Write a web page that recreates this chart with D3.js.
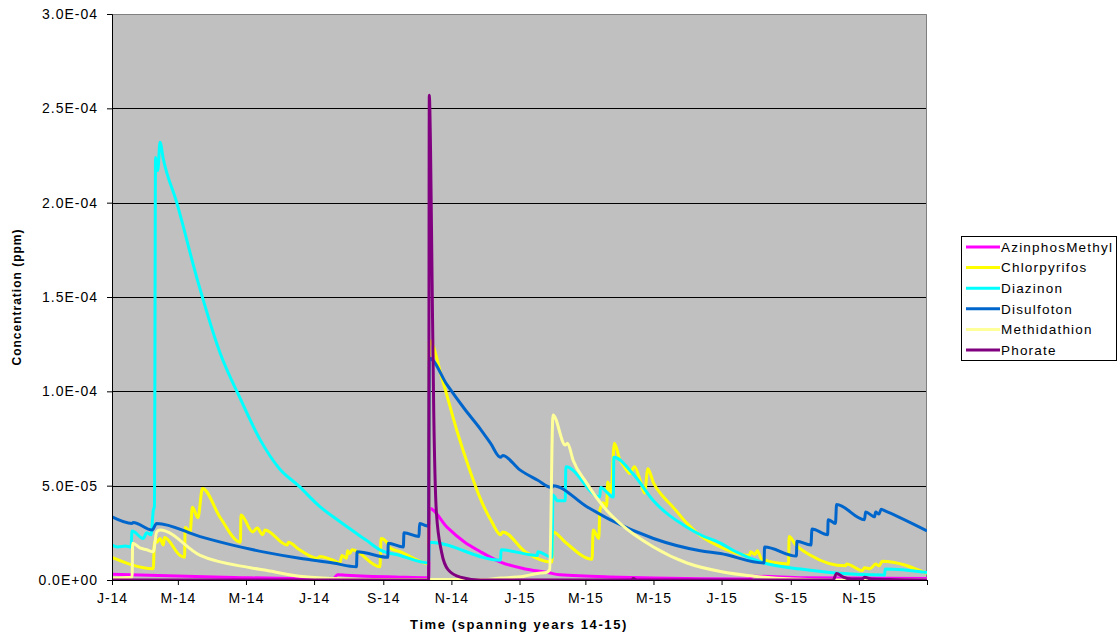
<!DOCTYPE html>
<html>
<head>
<meta charset="utf-8">
<script src="https://cdn.jsdelivr.net/npm/d3@7"></script>
<style>
  body { margin: 0; background: #fff; }
  svg { display: block; font-family: "Liberation Sans", Arial, sans-serif; }
</style>
</head>
<body>
<div id="chart"></div>
<script>
// values are read off the picture, in units of 1e-5 ppm
// each point is [days since 1 Jan 2014, concentration]
var UNIT = 1e-5;

var azinphosMethyl = [
  [0, 0.3], [100, 0.15], [198, 0.05], [202, 0.28], [210, 0.25], [258, 0.15],
  [283.6, 0.12], [284.3, 3.8], [300, 2.8], [316, 2.0], [330, 1.5], [348, 0.95],
  [369, 0.6], [390, 0.4], [401, 0.28], [455, 0.15], [485, 0.1], [570, 0.05],
  [575, 0.2], [620, 0.12], [730, 0.08]
];

var chlorpyrifos = [
  [0, 1.2], [37, 0.6], [38, 2.0], [40, 2.0], [43, 2.2], [46, 1.85], [47, 2.25],
  [61, 1.3], [65, 1.2], [65.5, 2.8], [70, 2.55], [72, 3.85], [77, 3.3], [81, 4.85],
  [97, 3.3], [115, 2.0], [115.5, 3.45], [126, 2.55], [130, 2.75], [135, 2.4],
  [137, 2.65], [157, 1.85], [158, 2.0], [168, 1.6], [184, 1.15], [186, 1.25],
  [198, 1.05], [204, 0.9], [206, 1.3], [210, 1.15], [211, 1.55], [213, 1.4],
  [215, 1.6], [240, 0.7], [241, 2.2], [246, 2.0], [249, 1.7], [258, 1.5],
  [280, 0.9], [283.6, 0.85], [284.3, 12.7], [296, 10.6], [309, 7.9], [320, 5.9],
  [330, 4.3], [340, 3.1], [348, 2.4], [350, 2.55], [370, 1.5], [394, 0.95],
  [395, 2.55], [406, 2.0],
  [430, 1.1], [431, 2.65], [436, 2.2], [437, 3.7], [440, 4.1], [443, 3.9],
  [444, 5.2], [447, 4.65], [450, 7.25], [455, 6.35], [459, 6.0], [464, 5.65],
  [468, 6.0], [473, 5.3], [477, 4.6], [480, 5.9], [485, 5.15], [494, 4.4],
  [502, 3.9], [515, 3.0], [527, 2.35], [545, 1.75], [557, 1.45], [571, 1.3],
  [572, 1.5], [576, 1.35], [578, 1.55], [582, 1.1], [606, 0.85], [606.5, 2.3],
  [612, 1.9], [626, 1.3], [657, 0.75], [658, 0.85], [672, 0.5], [674, 0.65],
  [679, 0.6], [684, 0.85], [687, 0.75], [690, 1.0], [730, 0.35]
];

var diazinon = [
  [0, 1.85], [5, 1.75], [12, 1.8], [17, 1.75], [18, 2.6], [28, 2.2], [31, 2.5],
  [35, 2.4], [37, 3.7], [38, 3.9], [39, 22.4], [41, 21.7], [43, 23.2], [46, 22.3],
  [58, 20.0], [77, 15.8], [97, 12.0], [115, 9.6], [133, 7.4], [150, 5.9],
  [167, 5.0], [186, 3.9], [204, 3.1], [228, 2.1], [240, 1.6], [258, 1.3],
  [283.6, 0.9], [284.3, 2.0], [348, 1.05], [348.5, 1.6], [381, 1.3], [381.5, 1.5],
  [394, 1.2], [395, 4.5], [399, 4.2], [406, 4.2], [406.5, 6.0], [437, 4.4],
  [437.5, 4.9], [449, 4.4], [449.5, 6.5], [467, 5.6], [485, 4.2], [515, 2.8],
  [527, 2.4], [545, 1.95], [557, 1.55], [584, 0.9], [617, 0.58], [648, 0.37],
  [692, 0.26], [692.5, 0.58], [730, 0.4]
];

var disulfoton = [
  [0, 3.35], [18, 3.0], [19, 3.05], [36, 2.65], [40, 3.0], [79, 2.3], [108, 1.85],
  [139, 1.45], [168, 1.15], [198, 0.9], [219, 0.7], [219.5, 1.5], [247, 1.2],
  [247.5, 1.95], [261, 1.75], [261.5, 2.5], [275, 2.3], [275.5, 3.0], [280, 2.9],
  [283.6, 2.85], [284.3, 11.75], [300, 10.35], [316, 9.05], [330, 8.0], [339, 7.25],
  [348, 6.5], [350, 6.6], [365, 5.85], [381, 5.3], [394, 4.9], [395, 5.0],
  [425, 3.9], [446, 3.2], [485, 2.2],
  [527, 1.55], [545, 1.4], [584, 0.9], [584.5, 1.75], [613, 1.27], [613.5, 2.05],
  [626, 1.85], [627, 2.7], [641, 2.4], [641.5, 3.2], [648, 3.0], [649, 4.0],
  [674, 3.2], [675, 3.6], [683, 3.35], [684, 3.6], [687, 3.5], [689, 3.75],
  [691, 3.7], [730, 2.6]
];

var methidathion = [
  [0, 0.1], [18, 0.15], [18.5, 1.95], [25, 1.7], [31, 1.6], [37, 1.5], [40, 2.55],
  [43, 2.65], [79, 1.3], [124, 0.65], [139, 0.5], [168, 0.2], [198, 0.08],
  [230, 0.02], [330, 0.02], [348, 0.1], [369, 0.2], [381, 0.35], [389, 0.4],
  [392, 0.55], [395, 8.75], [406, 7.15], [408, 7.25], [413, 6.35], [425, 5.15],
  [443, 3.7], [455, 3.0], [485, 1.75], [515, 0.9], [545, 0.45], [575, 0.2],
  [610, 0.05], [650, 0], [730, 0]
];

var phorate = [
  [0, 0], [283.6, 0], [284.2, 25.7], [285.3, 22.9], [286.7, 15.9], [288.2, 8.85],
  [290.6, 3.55], [295.3, 1.45], [301, 0.55], [312, 0.15], [330, 0], [465, 0],
  [467, 0.08], [470, 0], [646, 0], [649, 0.35], [655, 0.15], [662, 0.05],
  [672, 0.05], [674, 0.15], [680, 0.05], [730, 0]
];

var seriesNames = ["AzinphosMethyl", "Chlorpyrifos", "Diazinon", "Disulfoton", "Methidathion", "Phorate"];
var seriesData = [azinphosMethyl, chlorpyrifos, diazinon, disulfoton, methidathion, phorate];
var seriesColors = ["#FF00FF", "#FFFF00", "#00FFFF", "#0066CC", "#FFFF99", "#800080"];

var yTicks = [0, 5e-5, 1e-4, 1.5e-4, 2e-4, 2.5e-4, 3e-4];
var monthInitials = ["J", "F", "M", "A", "M", "J", "J", "A", "S", "O", "N", "D"];

var svgWidth = 1119;
var svgHeight = 636;
var margin = { top: 14, left: 112 };
var chartWidth = 815;
var chartHeight = 566;

var start = new Date(Date.UTC(2014, 0, 1));
var end = new Date(Date.UTC(2016, 0, 1));
function dayToDate(d) { return new Date(start.getTime() + d * 864e5); }

var svg = d3.select("#chart").append("svg")
  .attr("width", svgWidth)
  .attr("height", svgHeight);

var chartGroup = svg.append("g")
  .attr("transform", `translate(${margin.left}, ${margin.top})`);

var xScale = d3.scaleUtc().domain([start, end]).range([0, chartWidth]);
var yScale = d3.scaleLinear().domain([0, 3e-4]).range([chartHeight, 0]);

// plot area
chartGroup.append("rect")
  .attr("width", chartWidth)
  .attr("height", chartHeight)
  .attr("fill", "#C0C0C0");

// gridlines
chartGroup.selectAll(".grid")
  .data(yTicks.slice(1, -1))
  .enter()
  .append("line")
  .attr("x1", 0)
  .attr("x2", chartWidth)
  .attr("y1", d => Math.round(yScale(d)) + 0.5)
  .attr("y2", d => Math.round(yScale(d)) + 0.5)
  .attr("stroke", "#000")
  .attr("stroke-width", 1);

// top and right border
chartGroup.append("path")
  .attr("d", `M0,0.5H${chartWidth - 0.5}V${chartHeight}`)
  .attr("fill", "none")
  .attr("stroke", "#808080")
  .attr("stroke-width", 1);

chartGroup.append("clipPath").attr("id", "clip")
  .append("rect").attr("x", 0).attr("y", -2).attr("width", chartWidth).attr("height", chartHeight + 2);

// smooth curves like the spreadsheet's lines
var line = d3.line()
  .curve(d3.curveMonotoneX)
  .x(d => xScale(dayToDate(d[0])))
  .y(d => yScale(d[1] * UNIT));

chartGroup.append("g")
  .attr("clip-path", "url(#clip)")
  .selectAll("path")
  .data(seriesData)
  .enter()
  .append("path")
  .attr("d", d => line(d))
  .attr("fill", "none")
  .attr("stroke", (d, i) => seriesColors[i])
  .attr("stroke-width", 3)
  .attr("stroke-linejoin", "round");

// axes
function sciFormat(v) {
  if (v === 0) return "0.0E+00";
  var e = Math.floor(Math.log10(v) + 1e-9);
  var m = v / Math.pow(10, e);
  var sign = e < 0 ? "-" : "+";
  return m.toFixed(1) + "E" + sign + String(Math.abs(e)).padStart(2, "0");
}

var leftAxis = d3.axisLeft(yScale)
  .tickValues(yTicks)
  .tickFormat(sciFormat)
  .tickSize(5)
  .tickPadding(9);

var bottomTicks = d3.utcMonth.every(2).range(start, d3.utcDay.offset(end, 1));
var bottomAxis = d3.axisBottom(xScale)
  .tickValues(bottomTicks)
  .tickFormat(d => d.getTime() >= end.getTime() ? "" :
    monthInitials[d.getUTCMonth()] + "-" + String(d.getUTCFullYear()).slice(2))
  .tickSize(5)
  .tickPadding(8);

var yAxisG = chartGroup.append("g").call(leftAxis);
var xAxisG = chartGroup.append("g")
  .attr("transform", `translate(0, ${chartHeight})`)
  .call(bottomAxis);

[yAxisG, xAxisG].forEach(function(g) {
  g.selectAll("path.domain").attr("stroke", "#000");
  g.selectAll(".tick line").attr("stroke", "#000");
  g.selectAll(".tick text")
    .attr("fill", "#000")
    .style("font-size", "14px")
    .style("letter-spacing", "1px")
    .style("font-family", "'Liberation Sans', Arial, sans-serif");
});

// axis titles
svg.append("text")
  .attr("transform", `translate(21, ${margin.top + chartHeight / 2}) rotate(-90)`)
  .attr("text-anchor", "middle")
  .style("font-size", "12px")
  .style("font-weight", "bold")
  .style("letter-spacing", "1px")
  .text("Concentration (ppm)");

svg.append("text")
  .attr("x", 519)
  .attr("y", 629)
  .attr("text-anchor", "middle")
  .style("font-size", "13px")
  .style("font-weight", "bold")
  .style("letter-spacing", "1.6px")
  .text("Time (spanning years 14-15)");

// legend
var legend = svg.append("g").attr("transform", "translate(961, 236)");
legend.append("rect")
  .attr("x", 0.5).attr("y", 0.5)
  .attr("width", 155).attr("height", 124)
  .attr("fill", "#fff")
  .attr("stroke", "#000");

var items = legend.selectAll(".item")
  .data(seriesNames)
  .enter()
  .append("g")
  .attr("transform", (d, i) => `translate(0, ${11 + i * 20.6})`);

items.append("line")
  .attr("x1", 5).attr("x2", 39)
  .attr("stroke", (d, i) => seriesColors[i])
  .attr("stroke-width", 3);

items.append("text")
  .attr("x", 40)
  .attr("dy", "0.35em")
  .style("font-size", "13.5px")
  .style("letter-spacing", "1.2px")
  .text(d => d);
</script>
</body>
</html>
